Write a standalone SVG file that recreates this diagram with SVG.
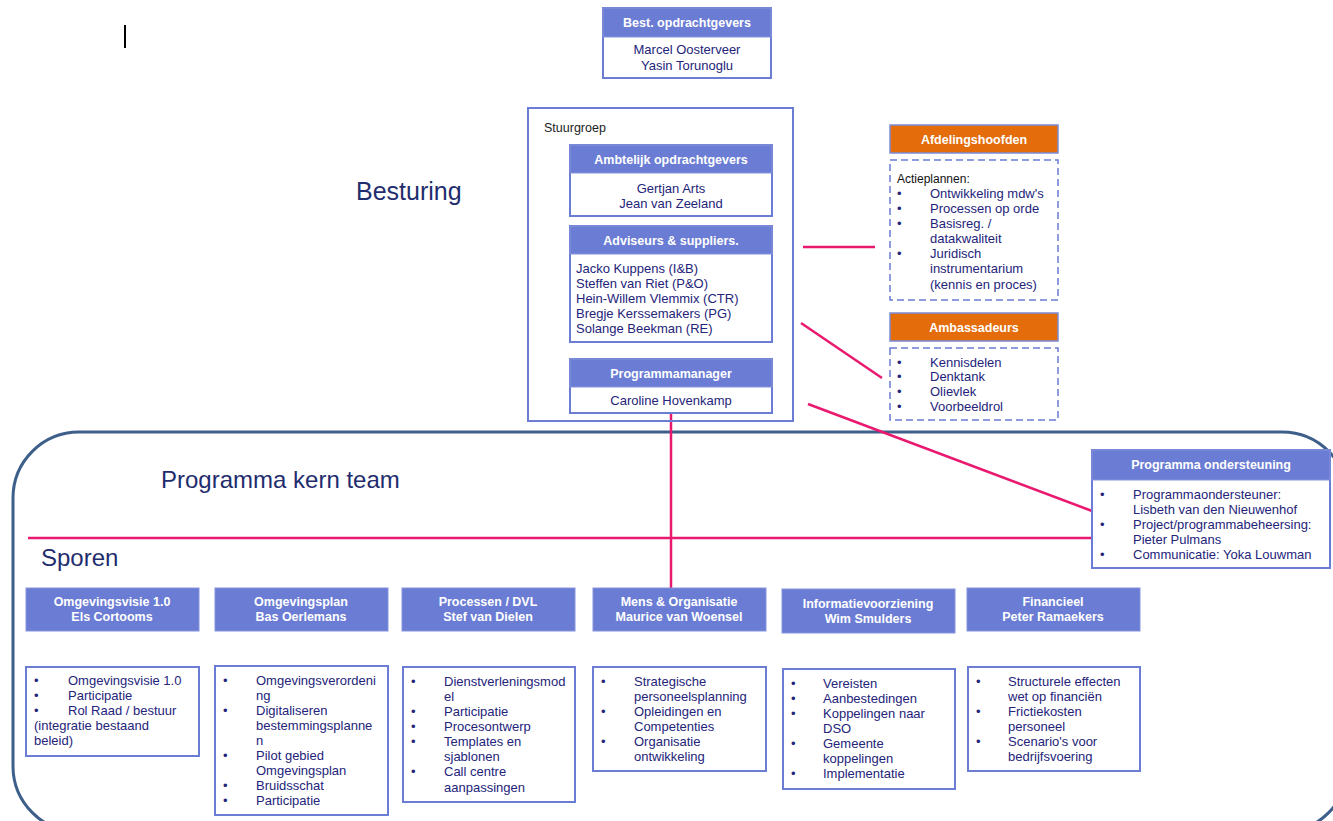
<svg xmlns="http://www.w3.org/2000/svg" width="1333" height="821" viewBox="0 0 1333 821">
<style>
text{font-family:"Liberation Sans",Arial,sans-serif;}
.hdr{fill:#6a7cd3;stroke:#8594dc;stroke-width:1;}
.org{fill:#e46c0a;stroke:#7b8bd6;stroke-width:1.5;}
.body{fill:#fff;stroke:#6a7cd3;stroke-width:2;}
.dash{fill:#fff;stroke:#6a7cd3;stroke-width:1.5;stroke-dasharray:7 4;}
.ht{fill:#fff;font-weight:bold;font-size:12.5px;text-anchor:middle;}
.bt{fill:#24247a;font-size:13px;}
.btc{fill:#24247a;font-size:13px;text-anchor:middle;}
.big{fill:#1f2d6e;font-size:25px;}
.con{stroke:#e8196f;stroke-width:2.5;fill:none;}
.sm{fill:#111;font-size:12px;}
</style>

<line x1="125" y1="25" x2="125" y2="48" stroke="#000" stroke-width="2"/>

<rect x="13" y="432" width="1335" height="400" rx="66" ry="66" fill="none" stroke="#3e5f8a" stroke-width="3"/>

<text class="big" x="356" y="200">Besturing</text>
<text class="big" x="161" y="488" style="font-size:24px">Programma kern team</text>
<text class="big" x="41" y="566" style="font-size:24px">Sporen</text>

<g id="connectors">
<line class="con" x1="803" y1="247" x2="875" y2="247"/>
<line class="con" x1="801" y1="323" x2="882" y2="378"/>
<line class="con" x1="808" y1="404" x2="1092" y2="511"/>
<line class="con" x1="671" y1="413" x2="671" y2="588"/>
<line class="con" x1="28" y1="538" x2="1092" y2="538"/>
</g>

<g id="best-opdrachtgevers">
<rect class="body" x="603" y="8" width="168" height="70"/>
<rect class="hdr" x="603" y="8" width="168" height="29"/>
<text class="ht" x="687" y="27">Best. opdrachtgevers</text>
<text class="btc" x="687" y="54">Marcel Oosterveer</text>
<text class="btc" x="687" y="70">Yasin Torunoglu</text>
</g>

<g id="stuurgroep">
<rect x="528" y="108" width="265" height="313" fill="none" stroke="#6a7cd3" stroke-width="2"/>
<text class="sm" x="544" y="132" style="fill:#222;font-size:12.5px">Stuurgroep</text>
</g>

<g id="ambtelijk">
<rect class="body" x="570" y="145" width="202" height="71"/>
<rect class="hdr" x="570" y="145" width="202" height="28"/>
<text class="ht" x="671" y="164">Ambtelijk opdrachtgevers</text>
<text class="btc" x="671" y="193">Gertjan Arts</text>
<text class="btc" x="671" y="208">Jean van Zeeland</text>
</g>

<g id="adviseurs">
<rect class="body" x="570" y="226" width="202" height="116"/>
<rect class="hdr" x="570" y="226" width="202" height="28"/>
<text class="ht" x="671" y="245">Adviseurs  &amp; suppliers.</text>
<text class="bt" x="576" y="273">Jacko Kuppens (I&amp;B)</text>
<text class="bt" x="576" y="288">Steffen van Riet (P&amp;O)</text>
<text class="bt" x="576" y="303">Hein-Willem  Vlemmix (CTR)</text>
<text class="bt" x="576" y="318">Bregje Kerssemakers (PG)</text>
<text class="bt" x="576" y="333">Solange Beekman  (RE)</text>
</g>

<g id="programmamanager">
<rect class="body" x="570" y="359" width="202" height="54"/>
<rect class="hdr" x="570" y="359" width="202" height="28"/>
<text class="ht" x="671" y="378">Programmamanager</text>
<text class="btc" x="671" y="405">Caroline Hovenkamp</text>
</g>

<g id="afdelingshoofden">
<rect class="org" x="890" y="125" width="168" height="28"/>
<text class="ht" x="974" y="144">Afdelingshoofden</text>
<rect class="dash" x="890" y="160" width="168" height="140"/>
<text class="sm" x="897" y="183">Actieplannen:</text>
<g class="bt">
<text x="897" y="198">•</text><text x="930" y="198">Ontwikkeling mdw's</text>
<text x="897" y="213">•</text><text x="930" y="213">Processen op orde</text>
<text x="897" y="228">•</text><text x="930" y="228">Basisreg. /</text>
<text x="930" y="243">datakwaliteit</text>
<text x="897" y="258">•</text><text x="930" y="258">Juridisch</text>
<text x="930" y="273">instrumentarium</text>
<text x="930" y="289">(kennis en proces)</text>
</g>
</g>

<g id="ambassadeurs">
<rect class="org" x="890" y="313" width="168" height="28"/>
<text class="ht" x="974" y="332">Ambassadeurs</text>
<rect class="dash" x="890" y="348" width="168" height="72"/>
<g class="bt">
<text x="897" y="367">•</text><text x="930" y="367">Kennisdelen</text>
<text x="897" y="381">•</text><text x="930" y="381">Denktank</text>
<text x="897" y="396">•</text><text x="930" y="396">Olievlek</text>
<text x="897" y="411">•</text><text x="930" y="411">Voorbeeldrol</text>
</g>
</g>

<g id="programma-ondersteuning">
<rect class="body" x="1092" y="450" width="238" height="118"/>
<rect class="hdr" x="1092" y="450" width="238" height="30"/>
<text class="ht" x="1211" y="469">Programma ondersteuning</text>
<g class="bt">
<text x="1100" y="499">•</text><text x="1133" y="499">Programmaondersteuner:</text>
<text x="1133" y="514">Lisbeth van den Nieuwenhof</text>
<text x="1100" y="529">•</text><text x="1133" y="529">Project/programmabeheersing:</text>
<text x="1133" y="544">Pieter Pulmans</text>
<text x="1100" y="559">•</text><text x="1133" y="559">Communicatie:  Yoka Louwman</text>
</g>
</g>

<g id="spoor-omgevingsvisie">
<rect class="hdr" x="26" y="588" width="173" height="43"/>
<text class="ht" x="112" y="606">Omgevingsvisie 1.0</text>
<text class="ht" x="112" y="621">Els Cortooms</text>
<rect class="body" x="26" y="667" width="173" height="89"/>
<g class="bt">
<text x="34" y="685">•</text><text x="68" y="685">Omgevingsvisie 1.0</text>
<text x="34" y="700">•</text><text x="68" y="700">Participatie</text>
<text x="34" y="715">•</text><text x="68" y="715">Rol Raad / bestuur</text>
<text x="34" y="730">(integratie bestaand</text>
<text x="34" y="745">beleid)</text>
</g>
</g>

<g id="spoor-omgevingsplan">
<rect class="hdr" x="215" y="588" width="173" height="43"/>
<text class="ht" x="301" y="606">Omgevingsplan</text>
<text class="ht" x="301" y="621">Bas Oerlemans</text>
<rect class="body" x="215" y="666" width="173" height="149"/>
<g class="bt">
<text x="223" y="685">•</text><text x="256" y="685">Omgevingsverordeni</text>
<text x="256" y="700">ng</text>
<text x="223" y="715">•</text><text x="256" y="715">Digitaliseren</text>
<text x="256" y="730">bestemmingsplanne</text>
<text x="256" y="745">n</text>
<text x="223" y="760">•</text><text x="256" y="760">Pilot gebied</text>
<text x="256" y="775">Omgevingsplan</text>
<text x="223" y="790">•</text><text x="256" y="790">Bruidsschat</text>
<text x="223" y="805">•</text><text x="256" y="805">Participatie</text>
</g>
</g>

<g id="spoor-processen">
<rect class="hdr" x="402" y="588" width="173" height="43"/>
<text class="ht" x="488" y="606">Processen  / DVL</text>
<text class="ht" x="488" y="621">Stef van Dielen</text>
<rect class="body" x="403" y="667" width="172" height="135"/>
<g class="bt">
<text x="411" y="686">•</text><text x="444" y="686">Dienstverleningsmod</text>
<text x="444" y="701">el</text>
<text x="411" y="716">•</text><text x="444" y="716">Participatie</text>
<text x="411" y="731">•</text><text x="444" y="731">Procesontwerp</text>
<text x="411" y="746">•</text><text x="444" y="746">Templates en</text>
<text x="444" y="761">sjablonen</text>
<text x="411" y="776">•</text><text x="444" y="776">Call centre</text>
<text x="444" y="792">aanpassingen</text>
</g>
</g>

<g id="spoor-mens">
<rect class="hdr" x="593" y="588" width="173" height="43"/>
<text class="ht" x="679" y="606">Mens &amp; Organisatie</text>
<text class="ht" x="679" y="621">Maurice van Woensel</text>
<rect class="body" x="593" y="667" width="173" height="104"/>
<g class="bt">
<text x="601" y="686">•</text><text x="634" y="686">Strategische</text>
<text x="634" y="701">personeelsplanning</text>
<text x="601" y="716">•</text><text x="634" y="716">Opleidingen en</text>
<text x="634" y="731">Competenties</text>
<text x="601" y="746">•</text><text x="634" y="746">Organisatie</text>
<text x="634" y="761">ontwikkeling</text>
</g>
</g>

<g id="spoor-informatie">
<rect class="hdr" x="782" y="589" width="173" height="44"/>
<text class="ht" x="868" y="608">Informatievoorziening</text>
<text class="ht" x="868" y="623">Wim Smulders</text>
<rect class="body" x="783" y="669" width="172" height="120"/>
<g class="bt">
<text x="791" y="688">•</text><text x="823" y="688">Vereisten</text>
<text x="791" y="703">•</text><text x="823" y="703">Aanbestedingen</text>
<text x="791" y="718">•</text><text x="823" y="718">Koppelingen naar</text>
<text x="823" y="733">DSO</text>
<text x="791" y="748">•</text><text x="823" y="748">Gemeente</text>
<text x="823" y="763">koppelingen</text>
<text x="791" y="778">•</text><text x="823" y="778">Implementatie</text>
</g>
</g>

<g id="spoor-financieel">
<rect class="hdr" x="967" y="588" width="173" height="43"/>
<text class="ht" x="1053" y="606">Financieel</text>
<text class="ht" x="1053" y="621">Peter Ramaekers</text>
<rect class="body" x="968" y="667" width="172" height="104"/>
<g class="bt">
<text x="976" y="686">•</text><text x="1008" y="686">Structurele effecten</text>
<text x="1008" y="701">wet op financiën</text>
<text x="976" y="716">•</text><text x="1008" y="716">Frictiekosten</text>
<text x="1008" y="731">personeel</text>
<text x="976" y="746">•</text><text x="1008" y="746">Scenario's voor</text>
<text x="1008" y="761">bedrijfsvoering</text>
</g>
</g>
</svg>
